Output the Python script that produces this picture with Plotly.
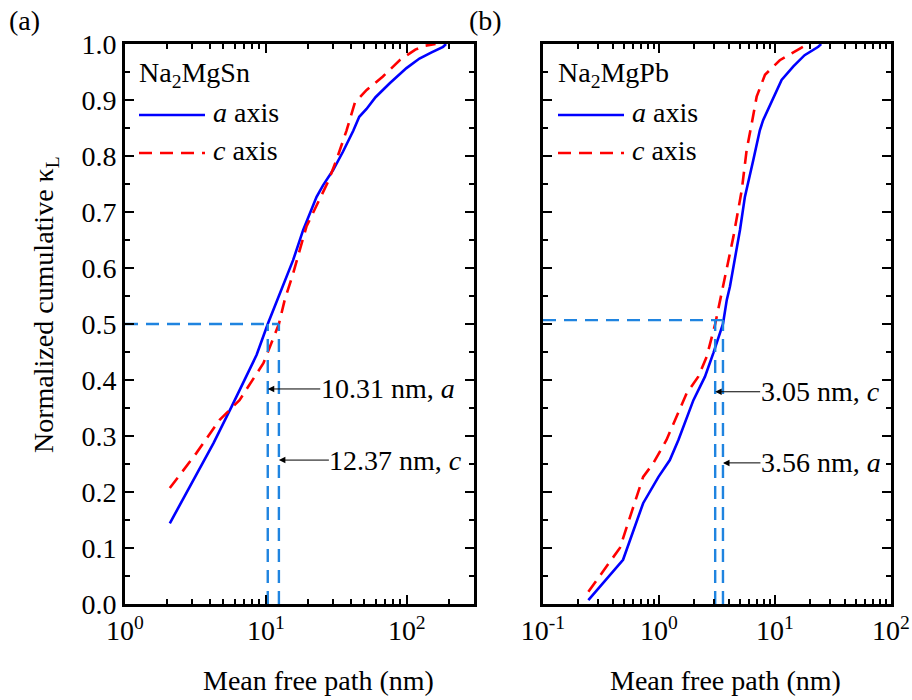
import numpy as np
import plotly.graph_objects as go

# ---- data -------------------------------------------------------------
# Na2MgSn, cumulative lattice thermal conductivity vs mean free path (nm)
sn_a_mfp = [2.08, 3.05, 4.24, 5.7, 8.6, 10.31, 12.6, 15.6, 18.4, 22.9, 25.5, 30.0,
            35.3, 41.7, 46.0, 51.8, 60.0, 75.7, 99.5, 123.0, 150.0, 181.0, 190.0]
sn_a_kappa = [0.144, 0.221, 0.287, 0.352, 0.445, 0.500, 0.555, 0.614, 0.668, 0.727, 0.748, 0.775,
              0.808, 0.845, 0.870, 0.884, 0.905, 0.930, 0.957, 0.974, 0.985, 0.995, 1.000]
sn_c_mfp = [2.08, 3.2, 4.7, 6.5, 9.6, 12.37, 13.6, 15.6, 19.4, 23.5, 27.6, 31.7,
            37.3, 42.8, 51.9, 67.7, 89.0, 115.0, 135.0, 160.0]
sn_c_kappa = [0.207, 0.269, 0.329, 0.364, 0.430, 0.500, 0.543, 0.590, 0.674, 0.716, 0.754, 0.793,
              0.845, 0.895, 0.918, 0.942, 0.971, 0.990, 0.997, 1.000]

# Na2MgPb
pb_a_mfp = [0.246, 0.49, 0.73, 0.99, 1.24, 1.47, 1.98, 2.49, 2.94, 3.56, 3.84, 4.09, 4.99,
            5.5, 6.5, 7.4, 7.9, 11.4, 14.4, 18.0, 23.6, 25.0]
pb_a_kappa = [0.007, 0.079, 0.180, 0.227, 0.257, 0.293, 0.364, 0.406, 0.448, 0.500, 0.543, 0.567, 0.668,
              0.727, 0.793, 0.846, 0.864, 0.936, 0.960, 0.980, 0.995, 1.000]
pb_c_mfp = [0.246, 0.46, 0.73, 0.89, 1.16, 1.73, 2.18, 2.58, 3.05, 3.36, 4.38, 5.17,
            5.7, 6.3, 6.95, 8.2, 11.0, 17.5, 20.0]
pb_c_kappa = [0.022, 0.100, 0.227, 0.251, 0.293, 0.376, 0.406, 0.442, 0.500, 0.543, 0.656, 0.739,
              0.811, 0.858, 0.906, 0.945, 0.971, 0.995, 1.000]

# half-accumulation mean free paths (nm)
sn_half = {"a": 10.31, "c": 12.37}
pb_half = {"a": 3.56, "c": 3.05}
sn_half_level = 0.5
pb_half_level = 0.507

panel_labels = ["(a)", "(b)"]
compounds = ["Na<sub>2</sub>MgSn", "Na<sub>2</sub>MgPb"]
series_names = ["<i>a</i> axis", "<i>c</i> axis"]
x_title = "Mean free path (nm)"
y_title = "Normalized cumulative \u03ba<sub>L</sub>"

# ---- styling ----------------------------------------------------------
W, H = 912, 700
FONT = "Liberation Serif"
BLUE = "#0000ff"
RED = "#ff0000"
GUIDE = "#1f84e0"
DASH = "13px,8px"


def px_x(p):
    return p / W


def px_y(p):
    return 1 - p / H


fig = go.Figure()

# cumulative curves
curves = [
    (sn_a_mfp, sn_a_kappa, BLUE, "solid", "x", "y"),
    (sn_c_mfp, sn_c_kappa, RED, DASH, "x", "y"),
    (pb_a_mfp, pb_a_kappa, BLUE, "solid", "x2", "y2"),
    (pb_c_mfp, pb_c_kappa, RED, DASH, "x2", "y2"),
]
for xs, ys, col, dash, xa, ya in curves:
    fig.add_trace(go.Scatter(x=xs, y=ys, mode="lines", xaxis=xa, yaxis=ya,
                             line=dict(color=col, width=2.6, dash=dash),
                             showlegend=False, hoverinfo="skip"))


# half-accumulation guide lines
def guides(half, level, x_left, xa, ya):
    right = max(half.values())
    fig.add_trace(go.Scatter(x=[x_left, right], y=[level, level], mode="lines",
                             xaxis=xa, yaxis=ya, showlegend=False, hoverinfo="skip",
                             line=dict(color=GUIDE, width=2.4, dash=DASH)))
    for v in half.values():
        fig.add_trace(go.Scatter(x=[v, v], y=[0, level], mode="lines",
                                 xaxis=xa, yaxis=ya, showlegend=False, hoverinfo="skip",
                                 line=dict(color=GUIDE, width=2.4, dash=DASH)))


guides(sn_half, sn_half_level, 1.0, "x", "y")
guides(pb_half, pb_half_level, 0.1, "x2", "y2")


# ---- axes -------------------------------------------------------------
def minor_vals(lo, hi):
    return [m * 10.0 ** d for d in range(lo, hi) for m in range(2, 10)]


tick_font = dict(family=FONT, size=28, color="black")
axis_common = dict(showline=True, linewidth=2.6, linecolor="black", mirror="ticks",
                   ticks="inside", ticklen=9, tickwidth=2, tickcolor="black",
                   showgrid=False, zeroline=False, tickfont=tick_font, automargin=False)
minor_common = dict(ticks="inside", ticklen=5, tickwidth=2, tickcolor="black", showgrid=False)

y_dom = [px_y(604), px_y(44)]
fig.update_layout(
    template="none",
    width=W, height=H, margin=dict(l=0, r=0, t=0, b=0, pad=0), autosize=False,
    paper_bgcolor="white", plot_bgcolor="white", showlegend=False,
    font=dict(family=FONT, size=28, color="black"),
    xaxis=dict(type="log", range=[0, np.log10(300)], domain=[px_x(125), px_x(474)], anchor="y",
               tickvals=[1, 10, 100], ticktext=["10<sup>0</sup>", "10<sup>1</sup>", "10<sup>2</sup>"],
               minor=dict(tickvals=minor_vals(0, 3), **minor_common),
               **axis_common),
    yaxis=dict(range=[0, 1.0], domain=y_dom, anchor="x", dtick=0.1, tick0=0, tickformat=".1f",
               minor=dict(dtick=0.05, **minor_common),
               **axis_common),
    xaxis2=dict(type="log", range=[-1, 2], domain=[px_x(543), px_x(891)], anchor="y2",
                tickvals=[0.1, 1, 10, 100],
                ticktext=["10<sup>-1</sup>", "10<sup>0</sup>", "10<sup>1</sup>", "10<sup>2</sup>"],
                minor=dict(tickvals=minor_vals(-1, 2), **minor_common),
                **axis_common),
    yaxis2=dict(range=[0, 1.0], domain=y_dom, anchor="x2", dtick=0.1, tick0=0,
                showticklabels=False,
                minor=dict(dtick=0.05, **minor_common),
                **axis_common),
)

text_font = dict(family=FONT, size=28, color="black")

# axis titles and panel labels
for cx in [318, 725]:
    fig.add_annotation(text=x_title, xref="paper", yref="paper", x=px_x(cx), y=px_y(680),
                       showarrow=False, font=text_font, xanchor="center", yanchor="middle")
fig.add_annotation(text=y_title, xref="paper", yref="paper", x=px_x(45), y=px_y(305),
                   showarrow=False, font=text_font, textangle=-90,
                   xanchor="center", yanchor="middle")
for lab, cx in zip(panel_labels, [24, 485]):
    fig.add_annotation(text=lab, xref="paper", yref="paper", x=px_x(cx), y=px_y(20),
                       showarrow=False, font=text_font, xanchor="center", yanchor="middle")

# in-panel legends
for comp, x0 in zip(compounds, [139, 558]):
    fig.add_annotation(text=comp, xref="paper", yref="paper", x=px_x(x0 - 2), y=px_y(74),
                       showarrow=False, font=text_font, xanchor="left", yanchor="middle")
    for name, col, dash, yy in zip(series_names, [BLUE, RED], ["solid", DASH], [115, 153]):
        fig.add_shape(type="line", xref="paper", yref="paper",
                      x0=px_x(x0), x1=px_x(x0 + 66), y0=px_y(yy), y1=px_y(yy),
                      line=dict(color=col, width=2.6, dash=dash))
        fig.add_annotation(text=name, xref="paper", yref="paper", x=px_x(x0 + 72), y=px_y(yy - 3),
                           showarrow=False, font=text_font, xanchor="left", yanchor="middle")

# half-accumulation call-outs
callouts = [
    ("x", "y", sn_half["a"], 0.384, 120, "a"),
    ("x", "y", sn_half["c"], 0.257, 117, "c"),
    ("x2", "y2", pb_half["c"], 0.379, 105, "c"),
    ("x2", "y2", pb_half["a"], 0.252, 98, "a"),
]
for xa, ya, v, yv, dx, ax_name in callouts:
    fig.add_annotation(text=f"{v:.2f} nm, <i>{ax_name}</i>", xref=xa, yref=ya,
                       x=np.log10(v), y=yv, ax=dx, ay=0, showarrow=True,
                       arrowhead=2, arrowsize=1.3, arrowwidth=1, arrowcolor="black",
                       font=text_font, borderpad=0)

fig.write_html("out.html")
